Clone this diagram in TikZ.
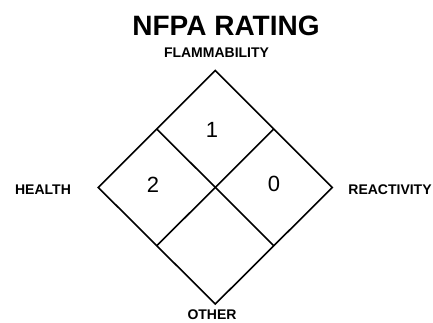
\documentclass[tikz,border=0pt]{standalone}
\usepackage{fontspec}
\setmainfont{Liberation Sans}
\usetikzlibrary{calc}
\begin{document}
\begin{tikzpicture}[x=1pt,y=-1pt,
  lbl/.style={font=\fontsize{14}{16}\selectfont\bfseries, inner sep=0pt, anchor=center},
  num/.style={font=\fontsize{22}{24}\selectfont, inner sep=0pt, anchor=center},
  edge/.style={line width=1.6pt, line join=miter}]
\useasboundingbox (0,0) rectangle (433,322);
\coordinate (T) at (215.3,70.5);
\coordinate (B) at (215.3,304);
\coordinate (L) at (98.3,187.5);
\coordinate (R) at (332.3,187.5);
\coordinate (TL) at ($(T)!0.5!(L)$);
\coordinate (TR) at ($(T)!0.5!(R)$);
\coordinate (BL) at ($(B)!0.5!(L)$);
\coordinate (BR) at ($(B)!0.5!(R)$);
\draw[edge] (T) -- (R) -- (B) -- (L) -- cycle;
\draw[edge] (TL) -- (BR);
\draw[edge] (TR) -- (BL);
\node[font=\fontsize{28}{30}\selectfont\bfseries, inner sep=0pt] (title) at (226,25.5) {NFPA RATING};
\node[lbl] (flam) at (216.5,52.5) {FLAMMABILITY};
\node[lbl] (health) at (43,189.5) {HEALTH};
\node[lbl] (react) at (390,189.5) {REACTIVITY};
\node[lbl] (other) at (212,315) {OTHER};
\node[num] (n1) at (212,130) {1};
\node[num] (n2) at (153,185) {2};
\node[num] (n0) at (274,183.5) {0};
\end{tikzpicture}
\end{document}
